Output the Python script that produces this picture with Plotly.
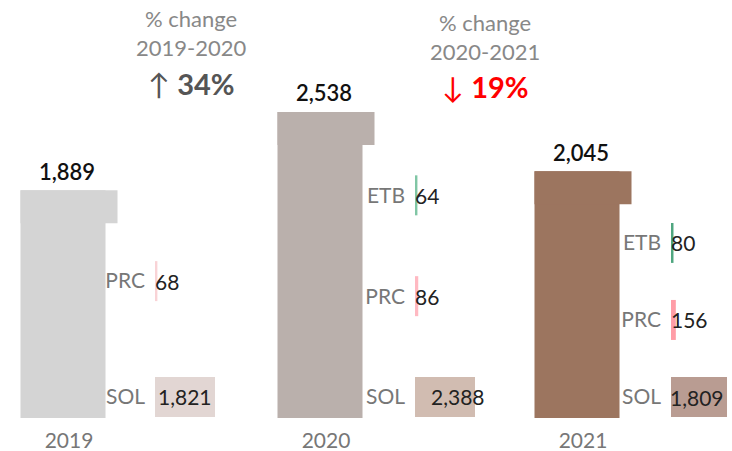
import plotly.graph_objects as go

# ---------------- data ----------------
YEARS = ["2019", "2020", "2021"]
TOTALS = [1889, 2538, 2045]
CATEGORIES = ["SOL", "PRC", "ETB"]
SOL = [1821, 2388, 1809]
PRC = [68, 86, 156]
ETB = [None, 64, 80]
CHANGE_TITLES = ["% change<br>2019-2020", "% change<br>2020-2021"]

# ---------------- styles ----------------
YEAR_COLORS = ["#d4d4d4", "#bab0ac", "#9c755f"]
SOL_COLORS = ["#e2d6d3", "#d1bcb1", "#b99c92"]
PRC_COLORS = ["#f9d3d6", "#ffb9c2", "#ff9da7"]
ETB_COLORS = [None, "#80c6a5", "#4fa67f"]
FONT = "Lato"

W, H = 732, 451
BASE_PX = 418
PX_PER_UNIT = 0.1206
CAT0_PX, CAT_STEP_PX = 69, 257
MAIN_W_PX, OVER_W_PX, NOTCH_PX = 85, 97, 33
ROW_BOTTOM_CENTER_PX, ROW_THICK_PX = 397, 40
SIDE_LEFT_PX = [155, 415, 671]
SIDE_W_PX = 60
SIDE_UNITS_PER_PX = [28.45, 26.5, 32.3]

fig = go.Figure()

off = -OVER_W_PX / 2 / CAT_STEP_PX
notch_u = NOTCH_PX / PX_PER_UNIT
fig.add_trace(go.Bar(x=YEARS, y=TOTALS, marker=dict(color=YEAR_COLORS, line=dict(width=0)),
                     width=MAIN_W_PX / CAT_STEP_PX, offset=off, hoverinfo="skip",
                     xaxis="x", yaxis="y"))
fig.add_trace(go.Bar(x=YEARS, y=[notch_u] * len(YEARS), base=[t - notch_u for t in TOTALS],
                     marker=dict(color=YEAR_COLORS, line=dict(width=0)),
                     width=OVER_W_PX / CAT_STEP_PX, offset=off, hoverinfo="skip",
                     xaxis="x", yaxis="y"))

annotations = []
for idx, t in enumerate(TOTALS):
    annotations.append(dict(x=idx, y=t, xref="x", yref="y", text=f"{t:,}", showarrow=False,
                            xanchor="center", yanchor="middle", yshift=19, xshift=-2,
                            font=dict(family=FONT, size=22, color="#111", weight=600)))

layout_axes = {}
for i, yr in enumerate(YEARS):
    rows = [(c, v, col) for c, v, col in zip(CATEGORIES, [SOL[i], PRC[i], ETB[i]],
                                             [SOL_COLORS[i], PRC_COLORS[i], ETB_COLORS[i]])
            if v is not None]
    cats = [r[0] for r in rows]
    vals = [r[1] for r in rows]
    cols = [r[2] for r in rows]
    n = len(cats)
    py_top = BASE_PX - TOTALS[i] * PX_PER_UNIT + NOTCH_PX
    s = (ROW_BOTTOM_CENTER_PX - py_top) / (n - 0.5)
    xa, ya = f"x{i+2}", f"y{i+2}"
    fig.add_trace(go.Bar(orientation="h", y=cats, x=vals,
                         marker=dict(color=cols, line=dict(width=0)),
                         width=ROW_THICK_PX / s, hoverinfo="skip", xaxis=xa, yaxis=ya))
    left = SIDE_LEFT_PX[i]
    layout_axes[f"xaxis{i+2}"] = dict(domain=[left / W, (left + SIDE_W_PX) / W],
                                      range=[0, SIDE_W_PX * SIDE_UNITS_PER_PX[i]],
                                      anchor=ya, visible=False, automargin=False)
    layout_axes[f"yaxis{i+2}"] = dict(domain=[0, 1 - py_top / H],
                                      range=[(ROW_BOTTOM_CENTER_PX - H) / s, n - 0.5],
                                      anchor=xa, type="category", categoryorder="array",
                                      categoryarray=cats, showgrid=False, zeroline=False,
                                      showline=False, ticks="", ticklabelstandoff=9,
                                      automargin=False,
                                      tickfont=dict(family=FONT, size=21, color="#777"))
    for c, v in zip(cats, vals):
        wpx = v / SIDE_UNITS_PER_PX[i]
        if wpx > 45:
            annotations.append(dict(x=v / 2, y=c, xref=xa, yref=ya, text=f"{v:,}",
                                    showarrow=False, xanchor="center", xshift=-2,
                                    font=dict(family=FONT, size=21, color="#222")))
        else:
            annotations.append(dict(x=0, y=c, xref=xa, yref=ya, text=f"{v:,}",
                                    showarrow=False, xanchor="left", xshift=-2,
                                    font=dict(family=FONT, size=21, color="#222")))

# % change headers
changes = [(TOTALS[k + 1] - TOTALS[k]) / TOTALS[k] * 100 for k in range(len(TOTALS) - 1)]
HEAD_X_PX = [191, 485]
HEAD_Y_PX = [(33, 83), (37, 87)]
for k, ch in enumerate(changes):
    up = ch >= 0
    annotations.append(dict(x=HEAD_X_PX[k] / W, y=1 - HEAD_Y_PX[k][0] / H, xref="paper", yref="paper",
                            text=CHANGE_TITLES[k], showarrow=False, xanchor="center", yanchor="middle",
                            font=dict(family=FONT, size=22, color="#888")))
    annotations.append(dict(x=HEAD_X_PX[k] / W, y=1 - HEAD_Y_PX[k][1] / H, xref="paper", yref="paper",
                            text=("\u2191 " if up else "\u2193 ") + f"<b>{abs(ch):.0f}%</b>",
                            showarrow=False, xanchor="center", yanchor="middle",
                            font=dict(family=FONT, size=29, color="#555" if up else "#ff0000")))

fig.update_layout(
    width=W, height=H, margin=dict(l=0, r=0, t=0, b=0, autoexpand=False),
    paper_bgcolor="white", plot_bgcolor="rgba(0,0,0,0)",
    barmode="overlay", showlegend=False,
    xaxis=dict(domain=[0, 1], type="category", categoryorder="array", categoryarray=YEARS,
               range=[-CAT0_PX / CAT_STEP_PX, (W - CAT0_PX) / CAT_STEP_PX],
               showgrid=False, zeroline=False, showline=False, ticks="", ticklabelstandoff=8,
               automargin=False,
               tickfont=dict(family=FONT, size=21, color="#777"), anchor="y"),
    yaxis=dict(domain=[1 - BASE_PX / H, 1], range=[0, BASE_PX / PX_PER_UNIT], visible=False,
               automargin=False, anchor="x"),
    annotations=annotations,
    **layout_axes,
)

fig.write_html("out.html", config={"displayModeBar": False},
               post_script="document.body.style.margin='0';document.body.style.overflow='hidden';")
